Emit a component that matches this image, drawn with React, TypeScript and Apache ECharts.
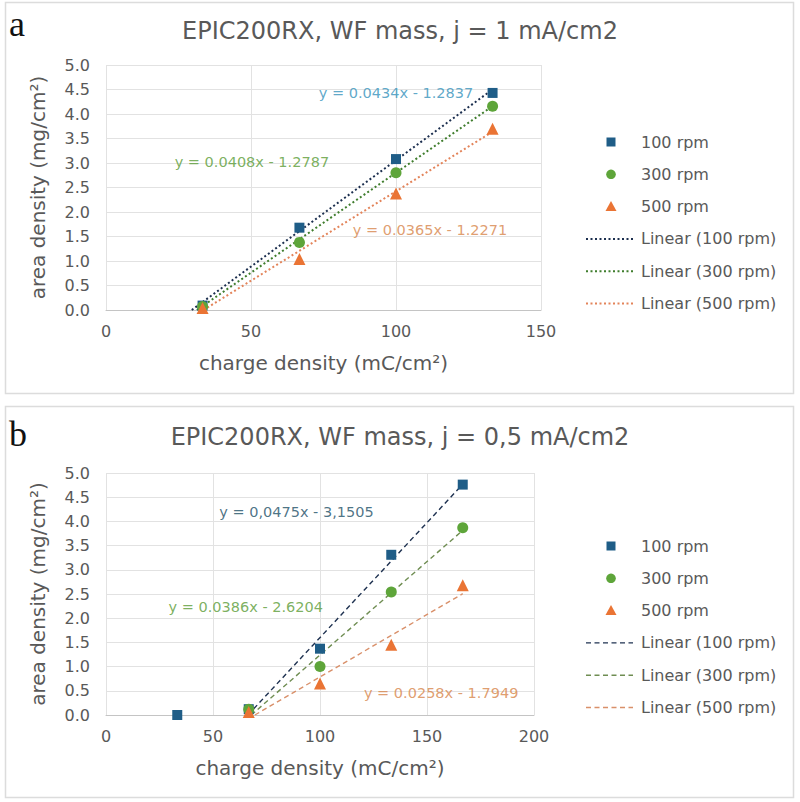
import React, { useEffect, useRef } from "react";
import * as echarts from "echarts";

// ---------- shared ----------
const seriesNames = ["100 rpm", "300 rpm", "500 rpm"];
const trendNames = ["Linear (100 rpm)", "Linear (300 rpm)", "Linear (500 rpm)"];
const yTickMin = 0;
const yTickMax = 5;
const yTickStep = 0.5;
const xTickStep = 50;

// ---------- panel a (j = 1 mA/cm2) ----------
const aTitle = "EPIC200RX, WF mass, j = 1 mA/cm2";
const aXMax = 150;
const aX = [33.3, 66.7, 100, 133.3];
const a100 = [0.09, 1.68, 3.08, 4.43];
const a300 = [0.07, 1.38, 2.8, 4.16];
const a500 = [0.04, 1.04, 2.38, 3.7];
const aSlopes = [0.0434, 0.0408, 0.0365];
const aIntercepts = [-1.2837, -1.2787, -1.2271];
const aTrendEnd = 133.3;
const aEquations = ["y = 0.0434x - 1.2837", "y = 0.0408x - 1.2787", "y = 0.0365x - 1.2271"];
const aEqAnchors = [[100, 4.43], [50.3, 3.02], [111.7, 1.63]];

// ---------- panel b (j = 0,5 mA/cm2) ----------
const bTitle = "EPIC200RX, WF mass, j = 0,5 mA/cm2";
const bXMax = 200;
const bX100 = [33.3, 66.7, 100, 133.3, 166.7];
const b100 = [0.0, 0.12, 1.37, 3.31, 4.76];
const bX = [66.7, 100, 133.3, 166.7];
const b300 = [0.12, 1.0, 2.54, 3.87];
const b500 = [0.06, 0.65, 1.45, 2.68];
const bSlopes = [0.0475, 0.0386, 0.0258];
const bIntercepts = [-3.1505, -2.6204, -1.7949];
const bTrendEnd = 166.7;
const bEquations = ["y = 0,0475x - 3,1505", "y = 0.0386x - 2.6204", "y = 0.0258x - 1.7949"];
const bEqAnchors = [[89, 4.19], [65.3, 2.23], [156.6, 0.45]];

// ---------- styles ----------
const FONT = "DejaVu Sans";
const TEXT = "#595959";
const markerColors = ["#1f5d87", "#5ea53a", "#ea7434"];
const markerSymbols = ["rect", "circle", "triangle"];
const markerSizes = [10, 11, 12];
const aTrendColors = ["#1c2f4f", "#3f7d2d", "#e3845a"];
const bTrendColors = ["#1f3251", "#6f8d52", "#d9906a"];
const aEqColors = ["#3592bb", "#5a9c36", "#d7854a"];
const bEqColors = ["#1d4f66", "#5a9c36", "#d7854a"];
const DOT: number[] = [2, 2.5];
const DASH: number[] = [5, 3.5];

const zip = (xs: number[], ys: number[]) => xs.map((x, i) => [x, ys[i]]);

function trendSeg(m: number, b: number, xEnd: number) {
  return [
    [-b / m, 0],
    [xEnd, m * xEnd + b],
  ];
}

function panelSeries(
  gi: number,
  pts: number[][][],
  slopes: number[],
  intercepts: number[],
  xEnd: number,
  trendColors: string[],
  dash: number[],
  trendWidth: number,
  eqs: string[],
  eqAnchors: number[][],
  eqColors: string[]
) {
  const out: any[] = [];
  slopes.forEach((m, i) => {
    out.push({
      type: "line",
      name: trendNames[i],
      xAxisIndex: gi,
      yAxisIndex: gi,
      data: trendSeg(m, intercepts[i], xEnd),
      showSymbol: false,
      symbol: "none",
      lineStyle: { color: trendColors[i], width: trendWidth, type: dash },
      z: 2,
      silent: true,
    });
  });
  pts.forEach((d, i) => {
    out.push({
      type: "scatter",
      name: seriesNames[i],
      xAxisIndex: gi,
      yAxisIndex: gi,
      data: d,
      symbol: markerSymbols[i],
      symbolSize: markerSizes[i],
      itemStyle: { color: markerColors[i], opacity: 1 },
      z: 3,
    });
  });
  eqs.forEach((t, i) => {
    out.push({
      type: "scatter",
      name: "eq" + gi + i,
      xAxisIndex: gi,
      yAxisIndex: gi,
      data: [eqAnchors[i]],
      symbolSize: 1,
      itemStyle: { color: "rgba(0,0,0,0)" },
      silent: true,
      z: 4,
      label: {
        show: true,
        position: "inside",
        formatter: t,
        color: eqColors[i],
        fontSize: 14.5,
        fontFamily: FONT,
      },
    });
  });
  return out;
}

function axes(gi: number, xMax: number) {
  const x = {
    gridIndex: gi,
    type: "value",
    min: 0,
    max: xMax,
    interval: xTickStep,
    axisLine: { show: true, lineStyle: { color: "#c4c4c4", width: 1 } },
    axisTick: { show: false },
    splitLine: { show: true, lineStyle: { color: "#e2e2e2", width: 1 } },
    axisLabel: { color: TEXT, fontSize: 16, fontFamily: FONT, margin: 13 },
    name: "charge density (mC/cm²)",
    nameLocation: "middle",
    nameGap: 43,
    nameTextStyle: { color: TEXT, fontSize: 20, fontFamily: FONT },
  };
  const y = {
    gridIndex: gi,
    type: "value",
    min: yTickMin,
    max: yTickMax,
    interval: yTickStep,
    axisLine: { show: false },
    axisTick: { show: false },
    splitLine: { show: true, lineStyle: { color: "#e2e2e2", width: 1 } },
    axisLabel: {
      color: TEXT,
      fontSize: 16,
      fontFamily: FONT,
      margin: 16,
      formatter: (v: number) => v.toFixed(1),
    },
    name: "area density (mg/cm²)",
    nameLocation: "middle",
    nameGap: 58,
    nameTextStyle: { color: TEXT, fontSize: 20, fontFamily: FONT },
  };
  return { x, y };
}

function legendGraphics(y0: number, dash: number[], trendColors: string[], trendWidth: number) {
  const els: any[] = [];
  const step = 32.3;
  const mx = 611;
  seriesNames.forEach((n, i) => {
    const y = y0 + i * step;
    if (i === 0) {
      els.push({ type: "rect", shape: { x: mx - 4.5, y: y - 4.5, width: 9, height: 9 }, style: { fill: markerColors[0] } });
    } else if (i === 1) {
      els.push({ type: "circle", shape: { cx: mx, cy: y, r: 4.8 }, style: { fill: markerColors[1] } });
    } else {
      els.push({ type: "polygon", shape: { points: [[mx, y - 5.5], [mx - 5.5, y + 4.5], [mx + 5.5, y + 4.5]] }, style: { fill: markerColors[2] } });
    }
    els.push({ type: "text", style: { x: 641, y, text: n, fill: TEXT, font: `16px '${FONT}'`, verticalAlign: "middle" } });
  });
  trendNames.forEach((n, i) => {
    const y = y0 + (i + 3) * step;
    els.push({
      type: "line",
      shape: { x1: 586, y1: y, x2: 633, y2: y },
      style: { stroke: trendColors[i], lineWidth: trendWidth, lineDash: dash },
    });
    els.push({ type: "text", style: { x: 641, y, text: n, fill: TEXT, font: `16px '${FONT}'`, verticalAlign: "middle" } });
  });
  return els;
}

export default function App() {
  const ref = useRef<HTMLDivElement>(null);
  useEffect(() => {
    if (!ref.current) return;
    const chart = echarts.init(ref.current, undefined, { renderer: "svg" });
    const A = axes(0, aXMax);
    const B = axes(1, bXMax);
    const option: any = {
      animation: false,
      backgroundColor: "#ffffff",
      grid: [
        { left: 106, top: 65, width: 435, height: 245 },
        { left: 106, top: 473, width: 428, height: 242 },
      ],
      xAxis: [A.x, B.x],
      yAxis: [A.y, B.y],
      series: [
        ...panelSeries(0, [zip(aX, a100), zip(aX, a300), zip(aX, a500)], aSlopes, aIntercepts, aTrendEnd, aTrendColors, DOT, 2, aEquations, aEqAnchors, aEqColors),
        ...panelSeries(1, [zip(bX100, b100), zip(bX, b300), zip(bX, b500)], bSlopes, bIntercepts, bTrendEnd, bTrendColors, DASH, 1.4, bEquations, bEqAnchors, bEqColors),
      ],
      graphic: [
        { type: "rect", shape: { x: 5.5, y: 2.5, width: 788, height: 391 }, style: { fill: "none", stroke: "#dcdcdc", lineWidth: 1.5 }, z: -1 },
        { type: "rect", shape: { x: 5.5, y: 406.5, width: 788, height: 391 }, style: { fill: "none", stroke: "#dcdcdc", lineWidth: 1.5 }, z: -1 },
        { type: "text", style: { x: 9, y: 24, text: "a", fill: "#111", font: "36px 'Liberation Serif'", verticalAlign: "middle" } },
        { type: "text", style: { x: 9, y: 434, text: "b", fill: "#111", font: "36px 'Liberation Serif'", verticalAlign: "middle" } },
        { type: "text", style: { x: 400, y: 31, text: aTitle, fill: TEXT, font: `24px '${FONT}'`, align: "center", verticalAlign: "middle" } },
        { type: "text", style: { x: 400, y: 437, text: bTitle, fill: TEXT, font: `24px '${FONT}'`, align: "center", verticalAlign: "middle" } },
        ...legendGraphics(142, DOT, aTrendColors, 2),
        ...legendGraphics(546, DASH, bTrendColors, 1.4),
      ],
    };
    chart.setOption(option);
    return () => chart.dispose();
  }, []);
  return (
    <div
      ref={ref}
      style={{ position: "fixed", left: 0, top: 0, width: 800, height: 802, background: "#fff" }}
    />
  );
}
